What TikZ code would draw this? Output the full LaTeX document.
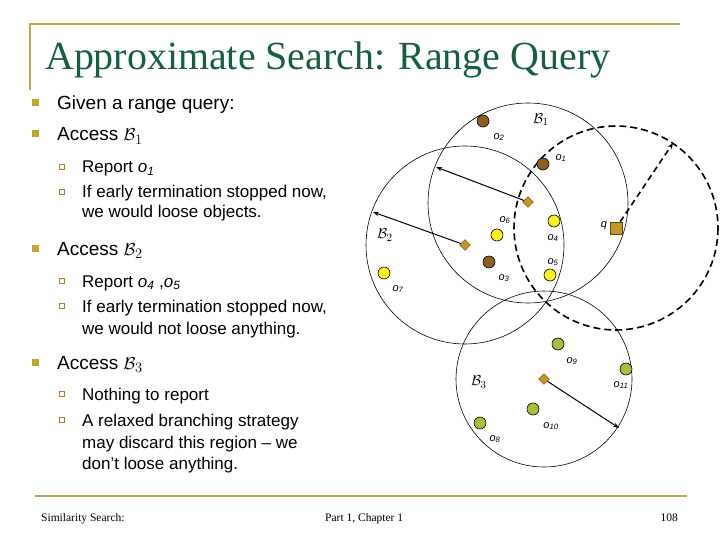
\documentclass[tikz,border=0pt]{standalone}
\usepackage{fontspec}
\setmainfont{Liberation Sans}
\newfontfamily\serif{Liberation Serif}
\usetikzlibrary{arrows.meta,shapes.geometric}
\definecolor{ttl}{RGB}{20,95,60}
\definecolor{gold}{RGB}{200,165,40}
\definecolor{rule}{RGB}{190,170,70}
\definecolor{brn}{RGB}{140,95,30}
\definecolor{yel}{RGB}{255,240,30}
\definecolor{grn}{RGB}{170,190,60}
\definecolor{dia}{RGB}{200,150,40}
\newcommand{\ob}[1]{\textit{o\textsubscript{#1}}}
\tikzset{
 bul/.style={fill=gold,minimum size=7pt,inner sep=0,draw=none},
 sbul/.style={draw=gold!80!black,minimum size=5pt,inner sep=0,line width=0.5pt},
 txt/.style={anchor=base west,inner sep=0,font=\fontsize{19}{22}\selectfont},
 stxt/.style={anchor=base west,inner sep=0,font=\fontsize{17}{20}\selectfont,align=left},
 obj/.style={circle,draw,minimum size=12pt,inner sep=0,line width=0.6pt},
 rt/.style={diamond,draw=brn!70!black,fill=dia,minimum size=11pt,inner sep=0,line width=0.4pt},
 ball/.style={draw,line width=0.6pt},
 olab/.style={font=\fontsize{11}{12}\selectfont,inner sep=0},
 blab/.style={font=\fontsize{15}{16}\selectfont,inner sep=0},
 arr/.style={-{Stealth[length=6pt]},line width=1pt},
 foot/.style={font=\serif\fontsize{11.5}{13}\selectfont,anchor=base,inner sep=0}
}
\begin{document}
\begin{tikzpicture}[x=1pt,y=-1pt]
\useasboundingbox[fill=white] (0,0) rectangle (720,540);
\draw[rule,line width=1.5pt] (30,90) -- (30,24) -- (680,24);
\draw[rule,line width=2pt] (35,496) -- (687,496);
\node[anchor=base west,inner sep=0,text=ttl] (title) at (45,70) {\resizebox{565pt}{!}{\serif\fontsize{40}{44}\selectfont Approximate Search: Range Query}};
% bullets
\node[bul] (b1) at (35,103) {}; \node[txt] (t1) at (57,110) {Given a range query:};
\node[bul] (b2) at (35,134) {}; \node[txt] (t2) at (57,141) {Access $\mathcal{B}_1$};
\node[sbul] (s1) at (62,167) {}; \node[stxt] (u1) at (82,173) {Report \ob{1}};
\node[sbul] (s2) at (62,192) {}; \node[stxt] (u2) at (82,198) {If early termination stopped now,};
\node[stxt] (u2b) at (82,218) {we would loose objects.};
\node[bul] (b3) at (35,248) {}; \node[txt] (t3) at (57,255) {Access $\mathcal{B}_2$};
\node[sbul] (s3) at (62,281) {}; \node[stxt] (u3) at (82,287) {Report \ob{4} ,\ob{5}};
\node[sbul] (s4) at (62,306) {}; \node[stxt] (u4) at (82,312) {If early termination stopped now,};
\node[stxt] (u4b) at (82,334) {we would not loose anything.};
\node[bul] (b4) at (35,362) {}; \node[txt] (t4) at (57,369) {Access $\mathcal{B}_3$};
\node[sbul] (s5) at (62,394) {}; \node[stxt] (u5) at (82,400) {Nothing to report};
\node[sbul] (s6) at (62,420) {}; \node[stxt] (u6) at (82,426) {A relaxed branching strategy};
\node[stxt] (u6b) at (82,448) {may discard this region -- we};
\node[stxt] (u6c) at (82,469) {don’t loose anything.};
% footer
\node[foot,anchor=base west] (f1) at (41,521) {Similarity Search:};
\node[foot,anchor=base west] (f2) at (325,521) {Part 1, Chapter 1};
\node[foot,anchor=base east] (f3) at (678,521) {108};
% balls
\draw[ball] (528,203) circle (100);
\draw[ball] (465,245) circle (99);
\draw[ball] (544,379) circle (88);
\draw[line width=1.6pt,dash pattern=on 7pt off 4pt] (616,228) circle (102);
% routing objects
\node[rt] (r1) at (528,202) {};
\node[rt] (r2) at (465,245) {};
\node[rt] (r3) at (544,379) {};
\node[draw=brn!70!black,fill=dia,minimum size=12pt,inner sep=0,line width=0.6pt] (q) at (616,228) {};
\coordinate (e1) at (436,167);
\coordinate (e2) at (373,212);
\coordinate (e3) at (619,428);
\coordinate (eq) at (673,143);
\draw[arr] (r1) -- (e1);
\draw[arr] (r2) -- (e2);
\draw[arr] (r3) -- (e3);
\draw[arr,line width=1.6pt,dash pattern=on 6pt off 4pt] (q) -- (eq);
% objects
\node[obj,fill=brn] (o2) at (483,121) {}; \node[olab] (l2) at (499,137) {\ob{2}};
\node[obj,fill=brn] (o1) at (543,164) {}; \node[olab] (l1) at (561,158) {\ob{1}};
\node[obj,fill=yel] (o6) at (497,235) {}; \node[olab] (l6) at (505,220) {\ob{6}};
\node[obj,fill=yel] (o4) at (554,221) {}; \node[olab] (l4) at (553,238) {\ob{4}};
\node[obj,fill=brn] (o3) at (489,262) {}; \node[olab] (l3) at (504,278) {\ob{3}};
\node[obj,fill=yel] (o5) at (550,275) {}; \node[olab] (l5) at (553,262) {\ob{5}};
\node[obj,fill=yel] (o7) at (384,273) {}; \node[olab] (l7) at (398,289) {\ob{7}};
\node[obj,fill=grn] (o9) at (558,344) {}; \node[olab] (l9) at (572,361) {\ob{9}};
\node[obj,fill=grn] (o11) at (626,369) {}; \node[olab] (l11) at (621,385) {\ob{11}};
\node[obj,fill=grn] (o10) at (533,409) {}; \node[olab] (l10) at (551,426) {\ob{10}};
\node[obj,fill=grn] (o8) at (480,423) {}; \node[olab] (l8) at (495,439) {\ob{8}};
\node[blab] (B1) at (541,120) {$\mathcal{B}_1$};
\node[blab] (B2) at (385,235) {$\mathcal{B}_2$};
\node[blab] (B3) at (479,382) {$\mathcal{B}_3$};
\node[olab] (ql) at (604,226) {\textit{q}};
\end{tikzpicture}
\end{document}
